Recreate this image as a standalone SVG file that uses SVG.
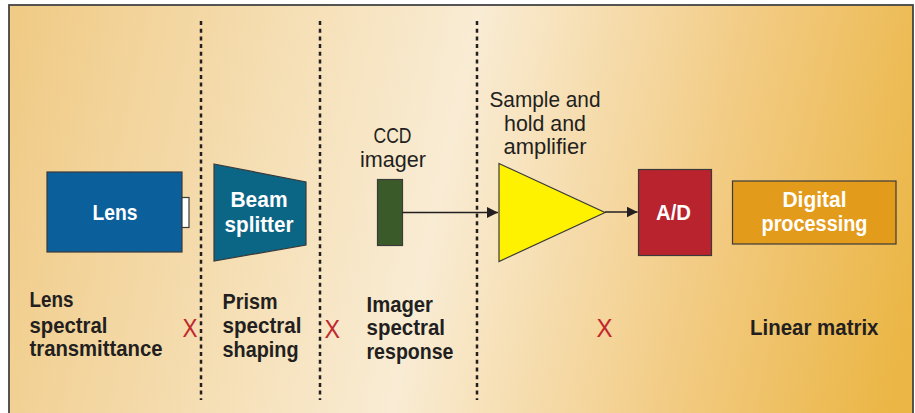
<svg xmlns="http://www.w3.org/2000/svg" width="915" height="413" viewBox="0 0 915 413">
  <defs>
    <linearGradient id="bg" gradientUnits="userSpaceOnUse" x1="0" y1="100" x2="915" y2="300">
      <stop offset="0" stop-color="#f0cb86"/>
      <stop offset="0.48" stop-color="#f9ecd4"/>
      <stop offset="0.78" stop-color="#f2ca80"/>
      <stop offset="1" stop-color="#ebb645"/>
    </linearGradient>
    <marker id="arr" viewBox="0 0 10 10" refX="10" refY="5" markerWidth="11" markerHeight="11" markerUnits="userSpaceOnUse" orient="auto">
      <path d="M0,0 L10,5 L0,10 z" fill="#231f20"/>
    </marker>
  </defs>
  <style>
    .sep { stroke: #231f20; stroke-width: 2.5; stroke-dasharray: 4 3.7; fill: none; }
    .box { stroke: #3a3a3a; stroke-width: 1.2; }
    .wb { font-family: "Liberation Sans", Arial, sans-serif; font-weight: bold; font-size: 22px; fill: #ffffff; text-anchor: middle; }
    .lbl { font-family: "Liberation Sans", Arial, sans-serif; font-size: 22px; fill: #231f20; text-anchor: middle; }
    .bl { font-family: "Liberation Sans", Arial, sans-serif; font-weight: bold; font-size: 22px; fill: #231f20; }
    .x { font-family: "Liberation Sans", Arial, sans-serif; font-size: 26px; fill: #c1272d; }
    .conn { stroke: #231f20; stroke-width: 1.5; fill: none; }
  </style>

  <rect x="9" y="5" width="904" height="420" fill="url(#bg)" stroke="#444444" stroke-width="1.8"/>

  <g id="separators">
    <line class="sep" x1="201" y1="21" x2="201" y2="400"/>
    <line class="sep" x1="320" y1="21" x2="320" y2="400"/>
    <line class="sep" x1="477" y1="21" x2="477" y2="400"/>
  </g>

  <g id="lens">
    <rect class="box" x="47" y="172" width="135" height="80" fill="#0b5f9b"/>
    <rect class="box" x="182" y="197.5" width="7" height="30" fill="#ffffff"/>
    <text class="wb" x="115" y="220" textLength="45" lengthAdjust="spacingAndGlyphs">Lens</text>
  </g>

  <g id="beam-splitter">
    <polygon class="box" points="214,164 306,182 306,245 214,261" fill="#0b6585"/>
    <text class="wb" x="259" y="207" textLength="57" lengthAdjust="spacingAndGlyphs">Beam</text>
    <text class="wb" x="259" y="231.5" textLength="69" lengthAdjust="spacingAndGlyphs">splitter</text>
  </g>

  <g id="ccd-imager">
    <rect class="box" x="377.5" y="179.5" width="25" height="66" fill="#3b5a2a"/>
    <text class="lbl" x="392.5" y="143" textLength="38" lengthAdjust="spacingAndGlyphs">CCD</text>
    <text class="lbl" x="393" y="167" textLength="66" lengthAdjust="spacingAndGlyphs">imager</text>
  </g>

  <g id="amplifier">
    <polygon class="box" points="499,163.5 605,212.5 499,261.5" fill="#fff200"/>
    <text class="lbl" x="545" y="107" textLength="111" lengthAdjust="spacingAndGlyphs">Sample and</text>
    <text class="lbl" x="545" y="130.5" textLength="82" lengthAdjust="spacingAndGlyphs">hold and</text>
    <text class="lbl" x="545" y="154" textLength="83" lengthAdjust="spacingAndGlyphs">amplifier</text>
  </g>

  <g id="ad">
    <rect class="box" x="638.5" y="169.5" width="73" height="86" fill="#b8232e"/>
    <text class="wb" x="673.5" y="220" textLength="35" lengthAdjust="spacingAndGlyphs">A/D</text>
  </g>

  <g id="digital-processing">
    <rect class="box" x="732.5" y="181" width="163.5" height="63" fill="#e39b1b"/>
    <text class="wb" x="814.5" y="206.5" textLength="64" lengthAdjust="spacingAndGlyphs">Digital</text>
    <text class="wb" x="814.5" y="230.5" textLength="106" lengthAdjust="spacingAndGlyphs">processing</text>
  </g>

  <g id="connectors">
    <line class="conn" x1="402.5" y1="212.5" x2="498" y2="212.5" marker-end="url(#arr)"/>
    <line class="conn" x1="605" y1="212" x2="637.5" y2="212" marker-end="url(#arr)"/>
  </g>

  <g id="bottom-labels">
    <text class="bl" x="29.5" y="307" textLength="44" lengthAdjust="spacingAndGlyphs">Lens</text>
    <text class="bl" x="29.5" y="332.5" textLength="78" lengthAdjust="spacingAndGlyphs">spectral</text>
    <text class="bl" x="29.5" y="356" textLength="133" lengthAdjust="spacingAndGlyphs">transmittance</text>

    <text class="x" x="182.5" y="336.5" textLength="15" lengthAdjust="spacingAndGlyphs">X</text>

    <text class="bl" x="222.5" y="309" textLength="55" lengthAdjust="spacingAndGlyphs">Prism</text>
    <text class="bl" x="222.5" y="333" textLength="79" lengthAdjust="spacingAndGlyphs">spectral</text>
    <text class="bl" x="222.5" y="356.5" textLength="76" lengthAdjust="spacingAndGlyphs">shaping</text>

    <text class="x" x="324.5" y="337.5" textLength="15.5" lengthAdjust="spacingAndGlyphs">X</text>

    <text class="bl" x="366.5" y="311.5" textLength="66.5" lengthAdjust="spacingAndGlyphs">Imager</text>
    <text class="bl" x="366.5" y="335" textLength="78.5" lengthAdjust="spacingAndGlyphs">spectral</text>
    <text class="bl" x="366.5" y="359" textLength="87" lengthAdjust="spacingAndGlyphs">response</text>

    <text class="x" x="596.5" y="336.5" textLength="16" lengthAdjust="spacingAndGlyphs">X</text>

    <text class="bl" x="750" y="335" textLength="128.5" lengthAdjust="spacingAndGlyphs">Linear matrix</text>
  </g>
</svg>
